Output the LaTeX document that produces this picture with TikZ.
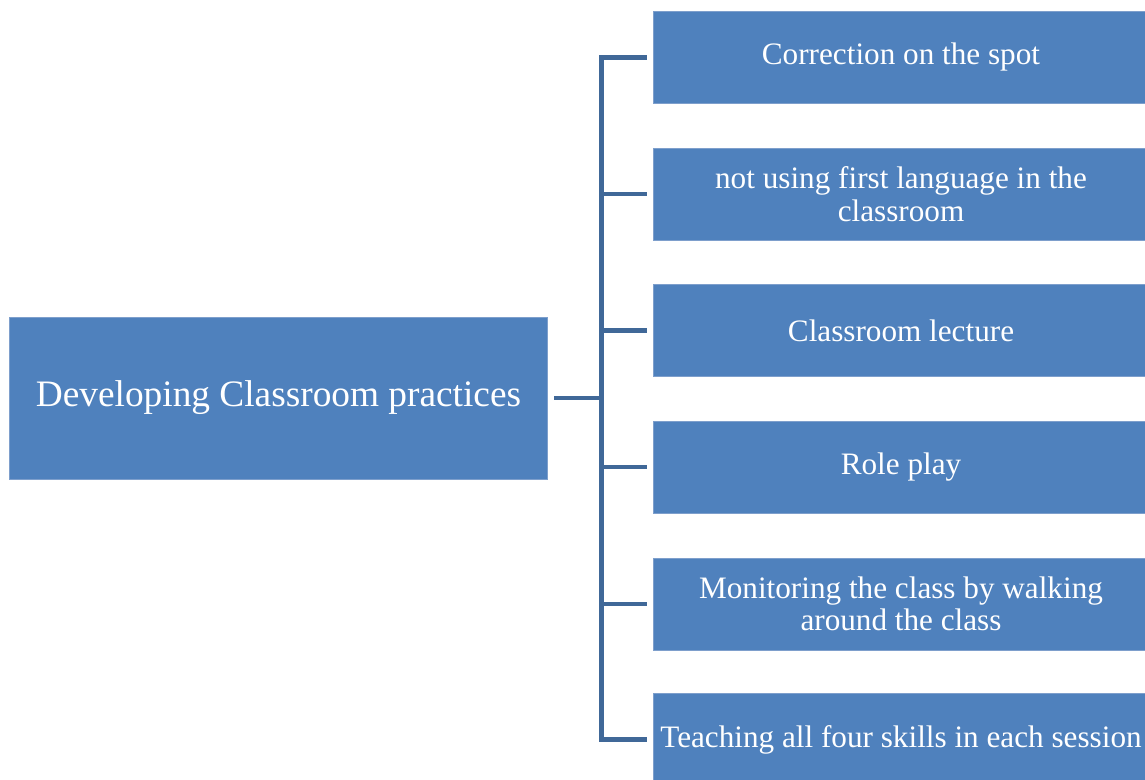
\documentclass[tikz,border=0pt]{standalone}
\usepackage{fontspec}
\setmainfont{Liberation Serif}
\usepackage{tikz}

\definecolor{boxblue}{HTML}{4F81BD}
\definecolor{edgeblue}{HTML}{7E9FCC}
\definecolor{linkblue}{HTML}{406898}

\tikzset{
  topic/.style={fill=boxblue, draw=edgeblue, line width=0.6pt, text=white,
    minimum width=404pt, minimum height=121.5pt, inner sep=0pt,
    font=\fontsize{28}{31}\selectfont},
  item/.style={fill=boxblue, draw=edgeblue, line width=0.6pt, text=white,
    minimum width=371pt, minimum height=69pt, inner sep=0pt, align=center,
    font=\fontsize{23.4}{24.3}\selectfont},
  link/.style={draw=linkblue, line width=3.6pt}
}

\begin{document}
\begin{tikzpicture}[x=0.75pt, y=-0.75pt]
		\clip (0,0) rectangle (1145,780);
		\useasboundingbox (0,0) rectangle (1145,780);
		
		% Caixa principal
		\node[topic] (main) at (278.5,398) {Developing Classroom practices};
		
		% Caixas da direita
		\node[item] (b1) at (901,57.5) {Correction on the spot};
		\node[item] (b2) at (901,194) {not using first language in the\\classroom};
		\node[item] (b3) at (901,330.5) {Classroom lecture};
		\node[item] (b4) at (901,467) {Role play};
		\node[item] (b5) at (901,604) {Monitoring the class by walking\\around the class};
		\node[item] (b6) at (901,739.5) {Teaching all four skills in each session};
		
		% Ligacoes
		\coordinate (bus) at (601.5,398);
		\draw[link] ([xshift=4.5pt]main.east) -- (bus);
		\draw[link] ([xshift=-5pt]b1.west) -- (bus |- b1.west) -- (bus |- b6.west) -- ([xshift=-5pt]b6.west);
		\draw[link] (bus |- b2.west) -- ([xshift=-5pt]b2.west);
		\draw[link] (bus |- b3.west) -- ([xshift=-5pt]b3.west);
		\draw[link] (bus |- b4.west) -- ([xshift=-5pt]b4.west);
		\draw[link] (bus |- b5.west) -- ([xshift=-5pt]b5.west);
	\end{tikzpicture}
\end{document}
